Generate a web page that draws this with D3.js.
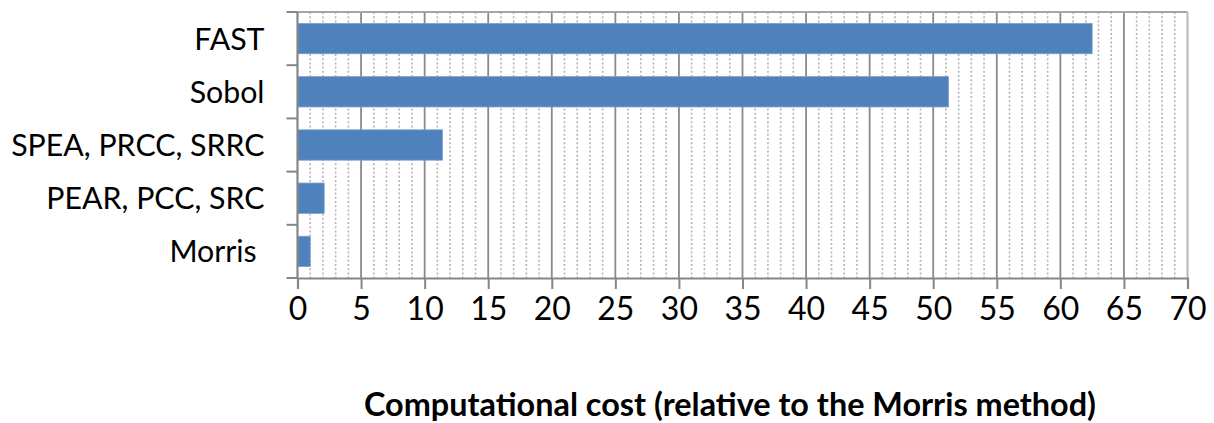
<!DOCTYPE html>
<html>
<head>
<meta charset="utf-8">
<script src="https://cdn.jsdelivr.net/npm/d3@7"></script>
<style>
  html, body { margin: 0; padding: 0; background: #fff; }
  svg { display: block; }
  text { font-family: Lato, "Liberation Sans", sans-serif; fill: #000; }
</style>
</head>
<body>
<svg id="chart" width="1214" height="423"></svg>
<script>
// Sensitivity-analysis methods, top to bottom
const methods = ["FAST", "Sobol", "SPEA, PRCC, SRRC", "PEAR, PCC, SRC", "Morris "];
// Computational cost relative to the Morris method
const costs = [62.5, 51.2, 11.4, 2.1, 1.0];
// Axis ticks
const xTicks = [0, 5, 10, 15, 20, 25, 30, 35, 40, 45, 50, 55, 60, 65, 70];
const xMinorTicks = d3.range(0, 71, 1).filter(v => v % 5 !== 0);
const xTitle = "Computational cost (relative to the Morris method)";

const W = 1214, H = 423;
const margin = { top: 12, right: 26.5, bottom: 145, left: 297.5 };
const innerW = W - margin.left - margin.right;
const innerH = H - margin.top - margin.bottom;

const svg = d3.select("#chart");
const g = svg.append("g").attr("transform", `translate(${margin.left},${margin.top})`);

const x = d3.scaleLinear().domain([0, 70]).range([0, innerW]);
const y = d3.scaleBand().domain(methods).range([0, innerH]).paddingInner(0.43).paddingOuter(0.215);

// Minor dotted gridlines
g.append("g").selectAll("line").data(xMinorTicks).join("line")
  .attr("x1", d => x(d)).attr("x2", d => x(d))
  .attr("y1", 0).attr("y2", innerH)
  .attr("stroke", "#b4b4b4").attr("stroke-width", 1.6)
  .attr("stroke-dasharray", "2,2.2");

// Major gridlines
g.append("g").selectAll("line").data(xTicks.filter(v => v > 0 && v < 70)).join("line")
  .attr("x1", d => x(d)).attr("x2", d => x(d))
  .attr("y1", 0).attr("y2", innerH)
  .attr("stroke", "#8a8a8a").attr("stroke-width", 1.8);

// Plot frame: top and right edges
g.append("line").attr("x1", 0).attr("x2", innerW).attr("y1", 0).attr("y2", 0)
  .attr("stroke", "#a6a6a6").attr("stroke-width", 2);
g.append("line").attr("x1", innerW).attr("x2", innerW).attr("y1", 0).attr("y2", innerH)
  .attr("stroke", "#b8b8b8").attr("stroke-width", 2);

// Bars
g.append("g").selectAll("rect").data(methods).join("rect")
  .attr("x", x(0))
  .attr("y", d => y(d))
  .attr("width", (d, i) => x(costs[i]) - x(0))
  .attr("height", y.bandwidth())
  .attr("fill", "#4f81bd")
  .attr("stroke", "#7a9fd0").attr("stroke-width", 0.8);

// X axis
const xAxis = g.append("g").attr("transform", `translate(0,${innerH})`)
  .call(d3.axisBottom(x).tickValues(xTicks).tickSize(11).tickPadding(8).tickFormat(d3.format("d")));
xAxis.select(".domain").attr("stroke", "#868686").attr("stroke-width", 2.2);
xAxis.selectAll(".tick line").attr("stroke", "#868686").attr("stroke-width", 2);
xAxis.selectAll(".tick text").attr("font-size", 32).attr("font-family", "Lato, sans-serif").attr("fill", "#000");

// Y axis: ticks at band boundaries
g.append("line").attr("x1", 0).attr("x2", 0).attr("y1", 0).attr("y2", innerH)
  .attr("stroke", "#868686").attr("stroke-width", 2.2);
const step = y.step();
const bounds = methods.map(m => y(m) - step * y.paddingInner() / 2).concat([innerH]);
bounds[0] = 0;
g.append("g").selectAll("line").data(bounds).join("line")
  .attr("x1", -11).attr("x2", 0)
  .attr("y1", d => d).attr("y2", d => d)
  .attr("stroke", "#868686").attr("stroke-width", 2);

g.append("g").selectAll("text").data(methods).join("text")
  .attr("x", -33)
  .attr("y", d => y(d) + y.bandwidth() / 2)
  .attr("dy", "0.36em")
  .attr("text-anchor", "end")
  .attr("font-size", 30.3)
  .attr("xml:space", "preserve")
  .style("white-space", "pre")
  .text(d => d);

// X axis title
svg.append("text")
  .attr("x", (367 + 1093) / 2)
  .attr("y", 416)
  .attr("text-anchor", "middle")
  .attr("font-size", 32.4)
  .attr("font-weight", "bold")
  .text(xTitle);
</script>
</body>
</html>
